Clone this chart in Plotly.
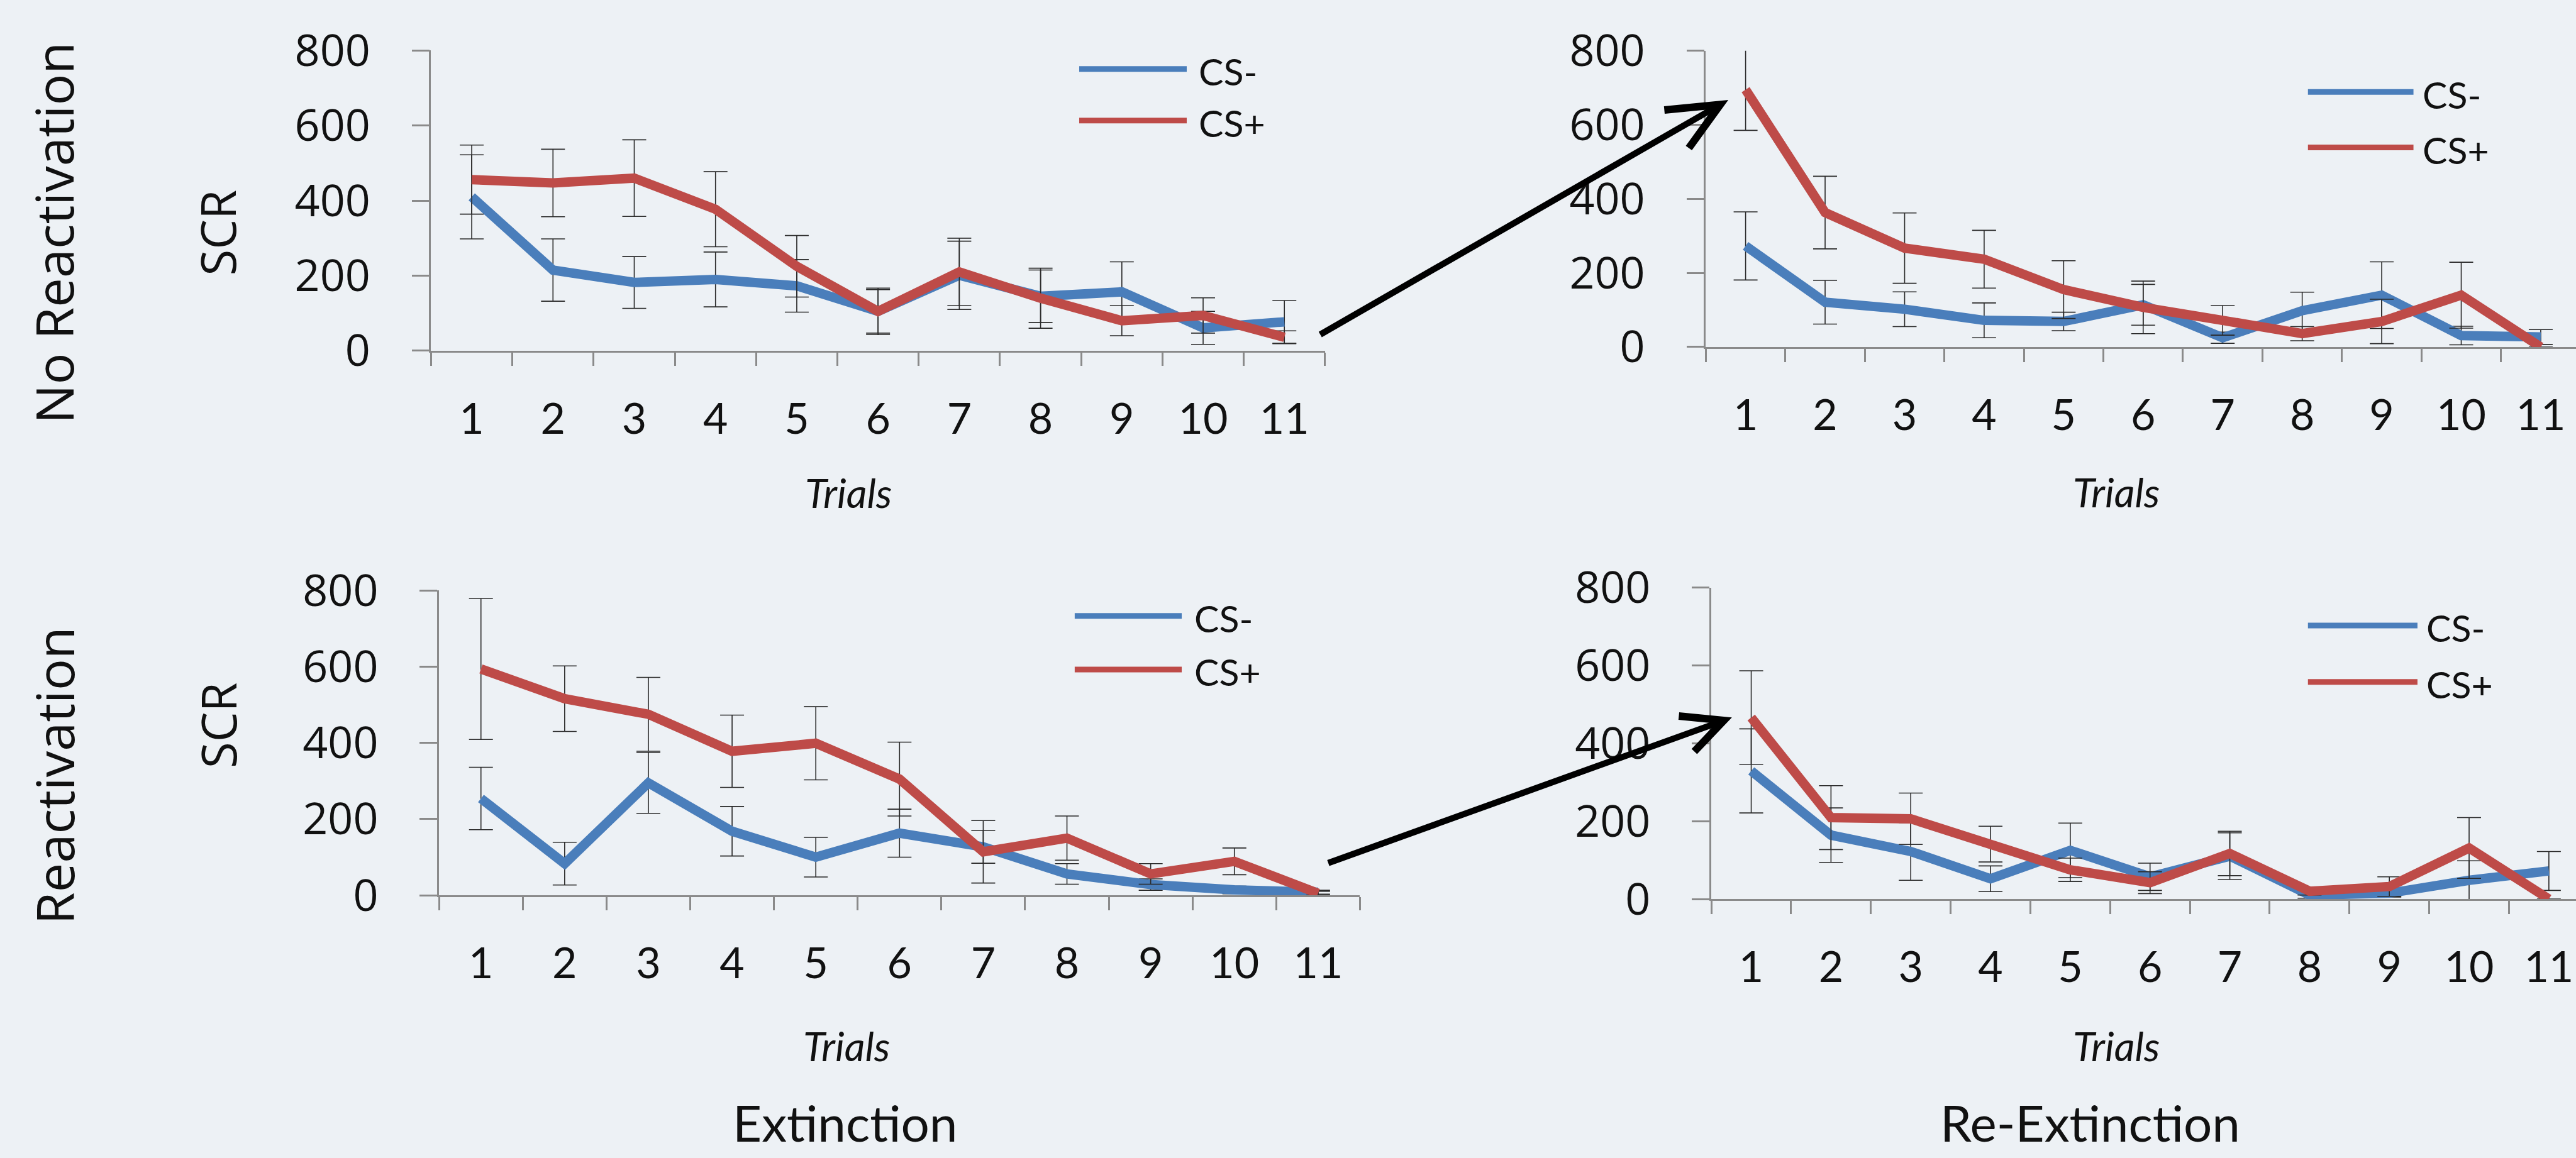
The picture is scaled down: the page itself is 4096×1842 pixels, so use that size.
import plotly.graph_objects as go

# ---------------- data ----------------
trials = ['1', '2', '3', '4', '5', '6', '7', '8', '9', '10', '11']
y_ticks = [0, 200, 400, 600, 800]
series_names = ['CS-', 'CS+']
row_labels = ['No Reactivation', 'Reactivation']
col_labels = ['Extinction', 'Re-Extinction']

# No Reactivation - Extinction
nr_ext_cs_minus = [410, 215, 182, 190, 173, 105, 201, 145, 157, 61, 77]
nr_ext_cs_plus = [456, 447, 460, 377, 225, 105, 210, 140, 80, 94, 36]
nr_ext_err_minus = [112, 83, 69, 73, 70, 58, 91, 70, 80, 44, 57]
nr_ext_err_plus = [92, 90, 102, 100, 82, 62, 90, 80, 40, 47, 17]

# No Reactivation - Re-Extinction
nr_rext_cs_minus = [273, 121, 102, 72, 69, 114, 25, 98, 140, 31, 27]
nr_rext_cs_plus = [695, 363, 267, 237, 155, 107, 72, 36, 69, 140, 0]
nr_rext_err_minus = [92, 59, 47, 47, 25, 55, 15, 50, 90, 25, 20]
nr_rext_err_plus = [110, 98, 95, 78, 78, 71, 40, 19, 60, 89, 0]

# Reactivation - Extinction
r_ext_cs_minus = [254, 83, 295, 168, 100, 163, 127, 56, 28, 14, 8]
r_ext_cs_plus = [594, 516, 475, 378, 399, 305, 114, 150, 56, 89, 5]
r_ext_err_minus = [82, 56, 80, 65, 52, 63, 43, 27, 15, 10, 5]
r_ext_err_plus = [185, 86, 97, 95, 96, 97, 82, 58, 27, 35, 5]

# Reactivation - Re-Extinction
r_rext_cs_minus = [329, 164, 122, 52, 125, 57, 110, 10, 15, 48, 72]
r_rext_cs_plus = [466, 209, 206, 141, 75, 42, 117, 20, 32, 131, 0]
r_rext_err_minus = [108, 70, 74, 33, 70, 35, 60, 8, 10, 50, 50]
r_rext_err_plus = [120, 82, 66, 46, 30, 28, 57, 10, 25, 78, 0]

# ---------------- styling / geometry ----------------
RW, RH = 5151.0, 2316.0      # reference pixel frame
FIG_W, FIG_H = 4096, 1842

BG = '#edf1f5'
BLUE = '#4a7ebb'
RED = '#be4b48'
AXIS = '#8a8a8a'
INK = '#111111'
SANS = 'Open Sans'
CAL = 'Lato'


def px(X):
    return X / RW


def py(Y):
    return 1 - Y / RH


panels = [
    dict(x0=862, step=162.5, y0=701.5, y800=101,
         data=(nr_ext_cs_minus, nr_ext_cs_plus, nr_ext_err_minus, nr_ext_err_plus),
         leg=(2158, 2373, 138, 241, 2395), trials_pos=(1696, 983)),
    dict(x0=3411, step=159.0, y0=694, y800=101.5,
         data=(nr_rext_cs_minus, nr_rext_cs_plus, nr_rext_err_minus, nr_rext_err_plus),
         leg=(4615, 4826, 184, 295, 4842), trials_pos=(4232, 982)),
    dict(x0=878, step=167.4, y0=1790.5, y800=1181,
         data=(r_ext_cs_minus, r_ext_cs_plus, r_ext_err_minus, r_ext_err_plus),
         leg=(2149, 2363, 1232, 1339, 2385), trials_pos=(1693, 2090)),
    dict(x0=3422, step=159.5, y0=1798, y800=1175,
         data=(r_rext_cs_minus, r_rext_cs_plus, r_rext_err_minus, r_rext_err_plus),
         leg=(4615, 4834, 1251, 1364, 4849), trials_pos=(4232, 2090)),
]

fig = go.Figure()
shapes = []
annotations = []
layout_axes = {}

for i, p in enumerate(panels):
    n = i + 1
    xa = 'x' if n == 1 else f'x{n}'
    ya = 'y' if n == 1 else f'y{n}'
    x_end_px = p['x0'] + 11 * p['step']
    dom_end_px = min(x_end_px, RW)
    xr = [-0.5, -0.5 + (dom_end_px - p['x0']) / p['step']]
    xdom = [px(p['x0']), px(dom_end_px)]
    ydom = [py(p['y0']), py(p['y800'])]

    cs_minus, cs_plus, e_minus, e_plus = p['data']
    for vals, errs, col, name in ((cs_minus, e_minus, BLUE, series_names[0]),
                                  (cs_plus, e_plus, RED, series_names[1])):
        fig.add_trace(go.Scatter(
            x=trials, y=vals, mode='lines', name=name, showlegend=False,
            line=dict(color=col, width=15, shape='linear'),
            error_y=dict(type='data', array=errs, visible=True,
                         color='#2a2a2a', thickness=1.6, width=19),
            xaxis=xa, yaxis=ya, cliponaxis=False,
        ))

    layout_axes['xaxis' if n == 1 else f'xaxis{n}'] = dict(
        domain=xdom, range=xr, type='category', anchor=ya, automargin=False,
        tickson='boundaries', ticks='outside', ticklen=21, tickwidth=2.5,
        tickcolor=AXIS, showline=True, linecolor=AXIS, linewidth=2.5,
        showgrid=False, zeroline=False, ticklabelstandoff=48,
        tickfont=dict(family=CAL, size=68, color=INK),
    )
    layout_axes['yaxis' if n == 1 else f'yaxis{n}'] = dict(
        domain=ydom, range=[0, 800], anchor=xa, automargin=False,
        tickmode='array', tickvals=y_ticks, ticktext=[str(v) for v in y_ticks],
        ticks='outside', ticklen=28, tickwidth=2.5, tickcolor=AXIS,
        showline=True, linecolor=AXIS, linewidth=2.5,
        showgrid=False, zeroline=False, ticklabelstandoff=52,
        tickfont=dict(family=SANS, size=70, color=INK),
    )

    # manual legend
    lx0, lx1, ly_minus, ly_plus, ltx = p['leg']
    for ly, col, name in ((ly_minus, BLUE, series_names[0]), (ly_plus, RED, series_names[1])):
        shapes.append(dict(type='line', xref='paper', yref='paper',
                           x0=px(lx0), x1=px(lx1), y0=py(ly), y1=py(ly),
                           line=dict(color=col, width=9), layer='above'))
        annotations.append(dict(text=name, xref='paper', yref='paper',
                                x=px(ltx), y=py(ly + 5), xanchor='left', yanchor='middle',
                                showarrow=False, font=dict(family=CAL, size=59, color=INK)))

    tx, ty = p['trials_pos']
    annotations.append(dict(text='<i>Trials</i>', xref='paper', yref='paper',
                            x=px(tx), y=py(ty + 2), xanchor='center', yanchor='middle',
                            showarrow=False, font=dict(family=CAL, size=64, color=INK)))

# row labels
for lab, (cx, cy) in zip(row_labels, [(106, 466), (108, 1551)]):
    annotations.append(dict(text=lab, xref='paper', yref='paper', x=px(cx), y=py(cy),
                            xanchor='center', yanchor='middle', textangle=-90,
                            showarrow=False, font=dict(family=SANS, size=83, color=INK)))
# SCR labels
for cy in (466, 1451):
    annotations.append(dict(text='SCR', xref='paper', yref='paper', x=px(435), y=py(cy),
                            xanchor='center', yanchor='middle', textangle=-90,
                            showarrow=False, font=dict(family=SANS, size=76, color=INK)))
# column labels
for lab, cx in zip(col_labels, (1690, 4180)):
    annotations.append(dict(text=lab, xref='paper', yref='paper', x=px(cx), y=py(2244),
                            xanchor='center', yanchor='middle',
                            showarrow=False, font=dict(family=CAL, size=80, color=INK)))

# arrows (reference px): start, tip, barb1, barb2
arrows = [
    ((2640, 669), (3440, 209), (3328, 220), (3377, 296)),
    ((2656, 1726), (3447, 1441), (3357, 1432), (3388, 1503)),
]
for st, tip, b1, b2 in arrows:
    shapes.append(dict(type='path', xref='paper', yref='paper', layer='above',
                       path=f'M {px(st[0])},{py(st[1])} L {px(tip[0])},{py(tip[1])}',
                       line=dict(color='black', width=10)))
    shapes.append(dict(type='path', xref='paper', yref='paper', layer='above',
                       path=(f'M {px(b1[0])},{py(b1[1])} L {px(tip[0])},{py(tip[1])} '
                             f'L {px(b2[0])},{py(b2[1])}'),
                       line=dict(color='black', width=12)))

fig.update_layout(
    width=FIG_W, height=FIG_H, autosize=False,
    margin=dict(l=0, r=0, t=0, b=0, pad=0, autoexpand=False),
    paper_bgcolor=BG, plot_bgcolor=BG,
    showlegend=False,
    shapes=shapes, annotations=annotations,
    **layout_axes,
)

fig.write_html(
    'out.html',
    config={'displayModeBar': False},
    post_script="document.body.style.margin='0';document.body.style.overflow='hidden';"
                "document.documentElement.style.background='" + BG + "';",
)
